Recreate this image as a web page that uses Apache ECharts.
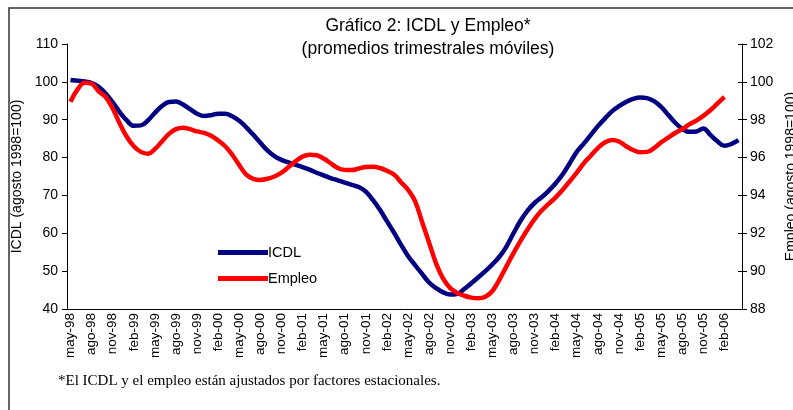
<!DOCTYPE html>
<html>
<head>
<meta charset="utf-8">
<script src="https://cdn.jsdelivr.net/npm/echarts@6/dist/echarts.min.js"></script>
<style>
  html, body { margin: 0; padding: 0; background: #fff; }
  #main { width: 793px; height: 410px; }
</style>
</head>
<body>
<div id="main"></div>
<script>
// meses en español, serie mensual desde may-98 hasta abr-06
const monthNames = ['ene', 'feb', 'mar', 'abr', 'may', 'jun', 'jul', 'ago', 'sep', 'oct', 'nov', 'dic']
const startMonth = 4   // may
const startYear = 1998
const nMonths = 96

const categories = []
for (let i = 0; i < nMonths; i++) {
  const m = (startMonth + i) % 12
  const y = startYear + Math.floor((startMonth + i) / 12)
  categories.push(monthNames[m] + '-' + String(y).slice(2))
}

// ICDL (agosto 1998=100), eje izquierdo
const icdl = [
  100.5, 100.3, 100.1, 99.7, 98.7, 96.9, 94.6, 92.0, 89.8, 88.4,
  88.5, 89.8, 91.8, 93.6, 94.7, 94.8, 94.0, 92.8, 91.6, 91.0,
  91.2, 91.6, 91.6, 90.9, 89.7, 88.0, 86.0, 83.9, 81.9, 80.4,
  79.4, 78.7, 78.1, 77.5, 76.8, 76.0, 75.3, 74.6, 74.0, 73.4,
  72.8, 72.2, 71.0, 68.8, 66.2, 63.2, 60.2, 57.0, 54.0, 51.6,
  49.3, 47.0, 45.5, 44.4, 43.8, 44.0, 45.3, 46.8, 48.4, 50.0,
  51.8, 53.8, 56.5, 60.0, 63.3, 66.0, 68.0, 69.5, 71.2, 73.2,
  75.6, 78.5, 81.5, 83.7, 86.0, 88.3, 90.3, 92.2, 93.6, 94.7,
  95.5, 95.9, 95.7, 94.9, 93.4, 91.3, 89.2, 87.6, 86.8, 86.9,
  87.7, 86.0, 84.3, 83.1, 83.6, 84.6
]

// Empleo (agosto 1998=100), eje derecho, hasta feb-06
const empleo = [
  98.95, 99.6, 99.95, 99.9, 99.5, 99.2, 98.6, 97.8, 97.1, 96.6,
  96.3, 96.2, 96.45, 96.85, 97.25, 97.5, 97.58, 97.5, 97.38, 97.3,
  97.15, 96.9, 96.6, 96.15, 95.6, 95.1, 94.88, 94.82, 94.88, 95.0,
  95.2, 95.5, 95.8, 96.05, 96.15, 96.12, 95.95, 95.7, 95.45, 95.35,
  95.34, 95.42, 95.5, 95.52, 95.45, 95.3, 95.1, 94.7, 94.3, 93.7,
  92.6, 91.5, 90.4, 89.6, 89.1, 88.85, 88.7, 88.6, 88.57, 88.65,
  88.95, 89.55, 90.25, 90.95, 91.6, 92.2, 92.75, 93.2, 93.55, 93.9,
  94.3, 94.75, 95.2, 95.7, 96.1, 96.5, 96.8, 96.93, 96.85, 96.6,
  96.4, 96.28, 96.3, 96.5, 96.8, 97.05, 97.3, 97.5, 97.75, 97.95,
  98.2, 98.5, 98.85, 99.2
]

const leftTicks = { min: 40, max: 110, interval: 10 }
const rightTicks = { min: 88, max: 102, interval: 2 }

var chartDom = document.getElementById('main')
var myChart = echarts.init(chartDom)
var option;
const font = 'Liberation Sans, Arial, sans-serif'

option = {
  animation: false,
  backgroundColor: '#fff',
  textStyle: { fontFamily: font },
  title: {
    text: 'Gráfico 2: ICDL y Empleo*\n(promedios trimestrales móviles)',
    left: 423,
    top: 10,
    textAlign: 'center',
    textStyle: {
      fontFamily: font,
      fontSize: 17.5,
      fontWeight: 'normal',
      color: '#000',
      lineHeight: 23
    }
  },
  legend: {
    orient: 'vertical',
    left: 213,
    top: 240,
    icon: 'rect',
    itemWidth: 50,
    itemHeight: 5,
    itemGap: 11,
    textStyle: { fontFamily: font, fontSize: 14.5, color: '#000', padding: [0, 0, 0, -5] },
    data: ['ICDL', 'Empleo']
  },
  grid: {
    left: 67,
    right: 51,
    top: 44,
    bottom: 101,
    outerBoundsMode: 'none'
  },
  xAxis: {
    type: 'category',
    data: categories,
    boundaryGap: true,
    axisLine: { lineStyle: { color: '#000', width: 1 } },
    axisTick: { interval: 2, length: 5, lineStyle: { color: '#000' } },
    axisLabel: {
      interval: 2,
      rotate: 90,
      margin: 4,
      fontSize: 13.5,
      color: '#000',
      fontFamily: font
    }
  },
  yAxis: [
    {
      type: 'value',
      min: leftTicks.min,
      max: leftTicks.max,
      interval: leftTicks.interval,
      name: 'ICDL (agosto 1998=100)',
      nameLocation: 'middle',
      nameGap: 35,
      nameTextStyle: { fontFamily: font, fontSize: 14, color: '#000' },
      splitLine: { show: false },
      axisLine: { show: true, lineStyle: { color: '#000' } },
      axisTick: { show: true, length: 5, lineStyle: { color: '#000' } },
      axisLabel: { margin: 9, fontSize: 14, color: '#000', fontFamily: font }
    },
    {
      type: 'value',
      position: 'right',
      min: rightTicks.min,
      max: rightTicks.max,
      interval: rightTicks.interval,
      name: 'Empleo (agosto 1998=100)',
      nameLocation: 'middle',
      nameGap: 38,
      nameRotate: 90,
      nameTextStyle: { fontFamily: font, fontSize: 14, color: '#000' },
      splitLine: { show: false },
      axisLine: { show: true, lineStyle: { color: '#000' } },
      axisTick: { show: true, length: 5, lineStyle: { color: '#000' } },
      axisLabel: { margin: 8, fontSize: 14, color: '#000', fontFamily: font }
    },
    {
      // marcas interiores del eje derecho (cruzadas)
      type: 'value',
      position: 'right',
      min: rightTicks.min,
      max: rightTicks.max,
      interval: rightTicks.interval,
      splitLine: { show: false },
      axisLine: { show: false },
      axisTick: { show: true, inside: true, length: 4, lineStyle: { color: '#000' } },
      axisLabel: { show: false }
    }
  ],
  graphic: [
    {
      type: 'rect',
      shape: { x: 9, y: 8, width: 800, height: 420 },
      style: { fill: 'none', stroke: '#333', lineWidth: 1.5 },
      silent: true
    },
    {
      type: 'text',
      left: 58,
      top: 374,
      style: {
        text: '*El ICDL y el empleo están ajustados por factores estacionales.',
        font: '15px "Liberation Serif", "Times New Roman", serif',
        fill: '#000'
      }
    }
  ],
  series: [
    {
      name: 'ICDL',
      type: 'line',
      yAxisIndex: 0,
      data: icdl,
      smooth: 0.4,
      showSymbol: false,
      lineStyle: { color: '#000080', width: 4.5 },
      itemStyle: { color: '#000080' },
      z: 3
    },
    {
      name: 'Empleo',
      type: 'line',
      yAxisIndex: 1,
      data: empleo,
      smooth: 0.4,
      showSymbol: false,
      lineStyle: { color: '#ff0000', width: 4.5 },
      itemStyle: { color: '#ff0000' },
      z: 4
    }
  ]
};

option && myChart.setOption(option)
</script>
</body>
</html>
